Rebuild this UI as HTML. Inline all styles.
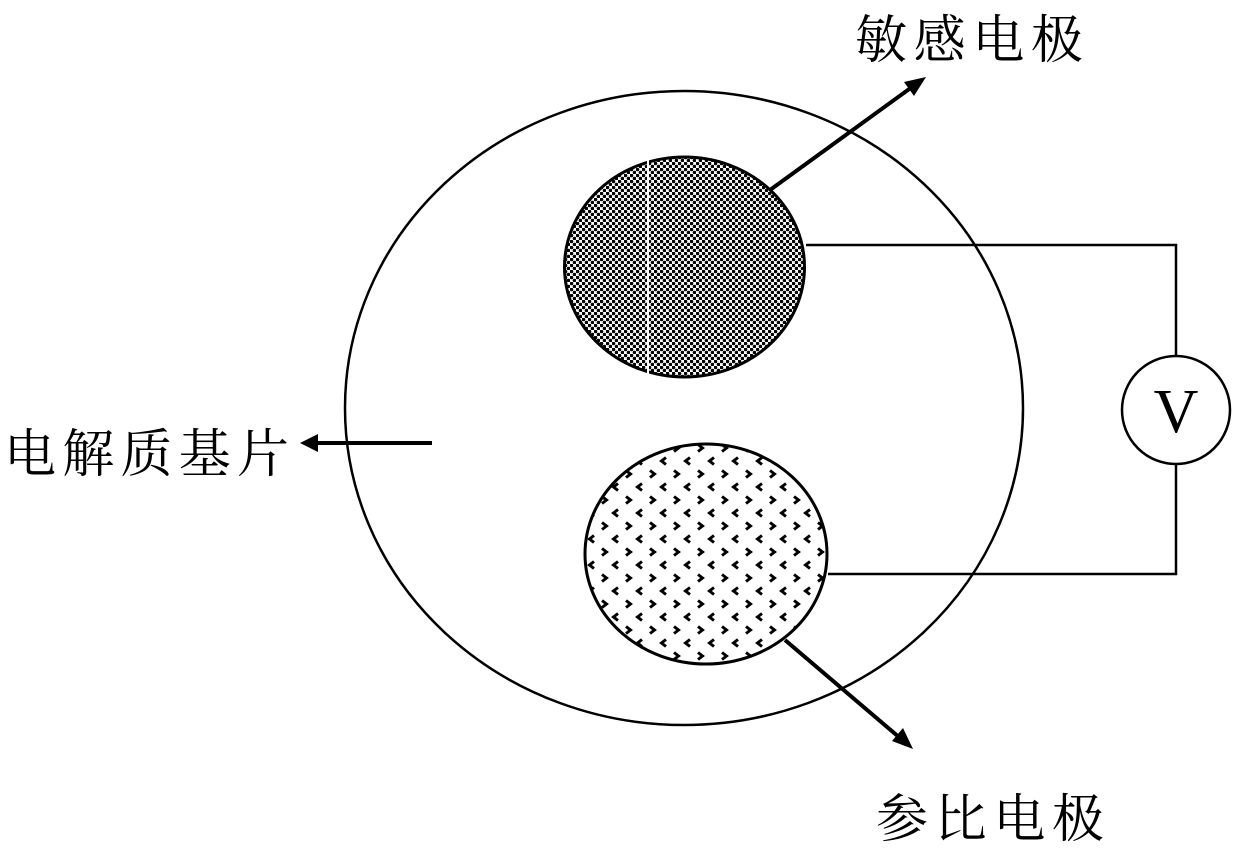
<!DOCTYPE html>
<html><head><meta charset="utf-8"><style>html,body{margin:0;padding:0;background:#fff;}svg{display:block}</style></head>
<body>
<svg width="1238" height="850" viewBox="0 0 1238 850" xmlns="http://www.w3.org/2000/svg">
<defs>
<pattern id="dots" width="6" height="6" patternUnits="userSpaceOnUse">
<circle cx="1.5" cy="1.5" r="1.8" fill="#000"/><circle cx="4.5" cy="4.5" r="1.8" fill="#000"/>
</pattern>
<pattern id="chev" width="24" height="26" patternUnits="userSpaceOnUse">
<path d="M2,2.5 L6.5,6 L2,9.5" fill="none" stroke="#000" stroke-width="3"/>
<path d="M18,15.5 L13.5,19 L18,22.5" fill="none" stroke="#000" stroke-width="3"/>
</pattern>
</defs>
<ellipse cx="684" cy="408" rx="339" ry="317" fill="none" stroke="#000" stroke-width="2.5"/>
<ellipse cx="684.5" cy="267" rx="120" ry="110" fill="url(#dots)" stroke="#000" stroke-width="3"/>
<line x1="648" y1="160" x2="648" y2="375" stroke="#fff" stroke-width="2"/>
<ellipse cx="706" cy="554" rx="121" ry="110" fill="url(#chev)" stroke="#000" stroke-width="3"/>
<polyline points="806,245 1176,245 1176,355" fill="none" stroke="#000" stroke-width="2.5"/>
<polyline points="1176,465 1176,574 828,574" fill="none" stroke="#000" stroke-width="2.5"/>
<circle cx="1176" cy="410" r="54" fill="#fff" stroke="#000" stroke-width="2.5"/>
<text x="1176" y="432" text-anchor="middle" font-family="Liberation Serif, serif" font-size="62">V</text>
<line x1="770" y1="190" x2="912" y2="87" stroke="#000" stroke-width="4"/>
<polygon points="926,77 904,82 914,96" fill="#000"/>
<line x1="785" y1="640" x2="900" y2="738" stroke="#000" stroke-width="4"/>
<polygon points="913,749 892,741 903,728" fill="#000"/>
<line x1="432" y1="443" x2="315" y2="443" stroke="#000" stroke-width="4"/>
<polygon points="300,443 318,434 318,452" fill="#000"/>
<g font-family="Liberation Serif, 'Noto Serif CJK SC', serif" font-size="52">
<text x="855" y="58" textLength="228">敏感电极</text>
<text x="4" y="472" textLength="285">电解质基片</text>
<text x="876" y="837" textLength="228">参比电极</text>
</g>
</svg>
</body></html>
